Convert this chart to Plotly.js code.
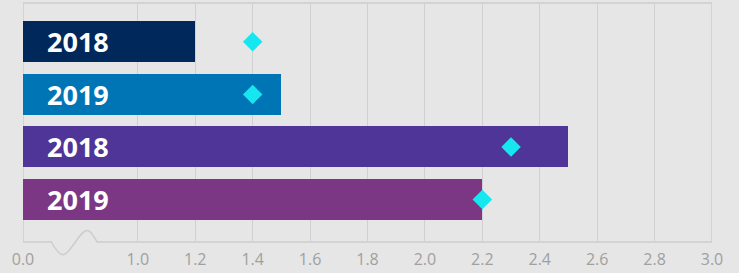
<!DOCTYPE html>
<html>
<head>
<meta charset="utf-8">
<script src="https://cdn.plot.ly/plotly-3.0.1.min.js"></script>
<style>
html,body{margin:0;padding:0;background:#e6e6e6;}
#chart{width:739px;height:273px;}
</style>
</head>
<body>
<div id="chart"></div>
<script>
// Data
const labels = ["2018", "2019", "2018", "2019"];
const barValues = [1.2, 1.5, 2.5, 2.2];
const markerValues = [1.4, 1.4, 2.3, 2.2];
const barColors = ["#00285b", "#0075b6", "#4f3598", "#7b3784"];
const tickVals = [0.6, 1.0, 1.2, 1.4, 1.6, 1.8, 2.0, 2.2, 2.4, 2.6, 2.8, 3.0];
const tickText = ["0.0", "1.0", "1.2", "1.4", "1.6", "1.8", "2.0", "2.2", "2.4", "2.6", "2.8", "3.0"];

const idx = labels.map((_, i) => i);

const bars = {
  type: "bar",
  orientation: "h",
  y: idx,
  x: barValues,
  width: 0.78,
  marker: {color: barColors, line: {width: 0}},
  hoverinfo: "x",
  showlegend: false
};

const diamonds = {
  type: "scatter",
  mode: "markers",
  y: idx,
  x: markerValues,
  marker: {symbol: "diamond", size: 15, color: "#16e6ee", line: {width: 0}},
  hoverinfo: "x",
  showlegend: false,
  cliponaxis: false
};

const annotations = labels.map((t, i) => ({
  xref: "paper", yref: "y",
  x: 0.032, y: i,
  xanchor: "left", yanchor: "middle",
  text: t,
  showarrow: false,
  font: {family: "Open Sans, Noto Sans, sans-serif", size: 27, color: "#ffffff", weight: 700}
}));

const framePath =
  "M 0.6,0 L 0.699,0 " +
  "C 0.712,-0.03 0.724,-0.053 0.740,-0.053 " +
  "C 0.765,-0.053 0.797,0.048 0.823,0.048 " +
  "C 0.838,0.048 0.848,0.02 0.858,0 " +
  "L 3.0,0 L 3.0,1 L 0.6,1 Z";

const layout = {
  width: 739, height: 273,
  margin: {l: 23, r: 27, t: 3, b: 31, pad: 0},
  paper_bgcolor: "#e6e6e6",
  plot_bgcolor: "#e6e6e6",
  bargap: 0,
  xaxis: {
    range: [0.6, 3.0],
    tickmode: "array",
    tickvals: tickVals,
    ticktext: tickText,
    showgrid: true,
    gridcolor: "#d0d0d0",
    gridwidth: 1,
    zeroline: false,
    showline: false,
    ticks: "",
    ticklabelstandoff: 6,
    fixedrange: true,
    tickfont: {family: "Open Sans, Noto Sans, sans-serif", size: 16, color: "#a0a0a0"}
  },
  yaxis: {
    range: [3.81, -0.74],
    showgrid: false,
    zeroline: false,
    showline: false,
    showticklabels: false,
    ticks: "",
    fixedrange: true
  },
  shapes: [{
    type: "path",
    xref: "x", yref: "paper",
    path: framePath,
    line: {color: "#cdcdcd", width: 1.5},
    fillcolor: "rgba(0,0,0,0)",
    layer: "below"
  }],
  annotations: annotations,
  font: {family: "Open Sans, Noto Sans, sans-serif"}
};

Plotly.newPlot("chart", [bars, diamonds], layout, {displayModeBar: false, staticPlot: true});
</script>
</body>
</html>
